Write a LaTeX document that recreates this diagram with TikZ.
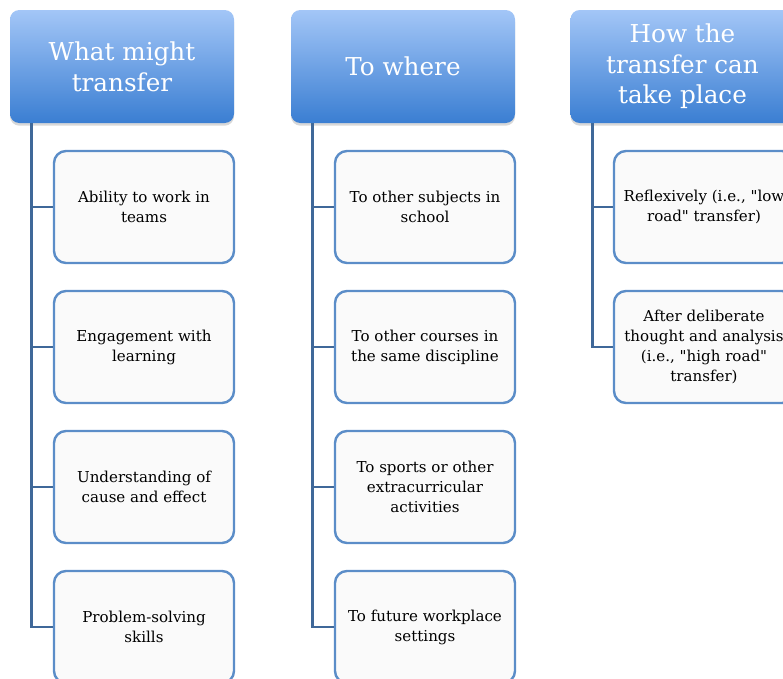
\documentclass[tikz,border=0pt]{standalone}
\usepackage{fontspec}
\setmainfont{DejaVu Serif}[Ligatures=TeXOff]
\usetikzlibrary{shadows}
\definecolor{hdtop}{HTML}{A3C6F7}
\definecolor{hdbot}{HTML}{3A7ED2}
\definecolor{connc}{HTML}{3F6899}
\definecolor{bxline}{HTML}{5B8DC8}
\definecolor{bxfill}{HTML}{FAFAFA}
\begin{document}
\begin{tikzpicture}[x=0.75pt,y=-0.75pt,
 header/.style={rounded corners=7pt, top color=hdtop, bottom color=hdbot, draw=none,
   minimum width=168pt, minimum height=84.75pt, text=white,
   font=\fontsize{18.5}{23}\selectfont, align=center, inner sep=0pt,
   drop shadow={opacity=0.3, shadow xshift=0pt, shadow yshift=-2pt}},
 item/.style={rounded corners=9pt, draw=bxline, line width=1.8pt, fill=bxfill,
   minimum width=135pt, minimum height=84pt, inner sep=0pt,
   font=\fontsize{11.3}{15}\selectfont, align=center},
 connline/.style={draw=connc, line width=2.1pt}]
\useasboundingbox (0,0) rectangle (783,679);
\fill[white] (0,0) rectangle (783,679);
% headers
\node[header] (h1) at (122,66.5) {What might\\transfer};
\node[header] (h2) at (403,66.5) {To where};
\node[header] (h3) at (682.5,66.5) {How the\\transfer can\\take place};
% column 1
\node[item] (a1) at (144,207) {Ability to work in\\teams};
\node[item] (a2) at (144,347) {Engagement with\\learning};
\node[item] (a3) at (144,487) {Understanding of\\cause and effect};
\node[item] (a4) at (144,627) {Problem-solving\\skills};
% column 2
\node[item] (b1) at (425,207) {To other subjects in\\school};
\node[item] (b2) at (425,347) {To other courses in\\the same discipline};
\node[item] (b3) at (425,487) {To sports or other\\extracurricular\\activities};
\node[item] (b4) at (425,627) {To future workplace\\settings};
% column 3
\node[item] (c1) at (704,207) {Reflexively (i.e., "low\\road" transfer)};
\node[item] (c2) at (704,347) {After deliberate\\thought and analysis\\(i.e., "high road"\\transfer)};
% connectors
\foreach \h/\n in {h1/a1,h1/a2,h1/a3,h1/a4,h2/b1,h2/b2,h2/b3,h2/b4,h3/c1,h3/c2}
  \draw[connline] ([xshift=16.5pt]\h.south west) |- (\n.west);
\end{tikzpicture}
\end{document}
